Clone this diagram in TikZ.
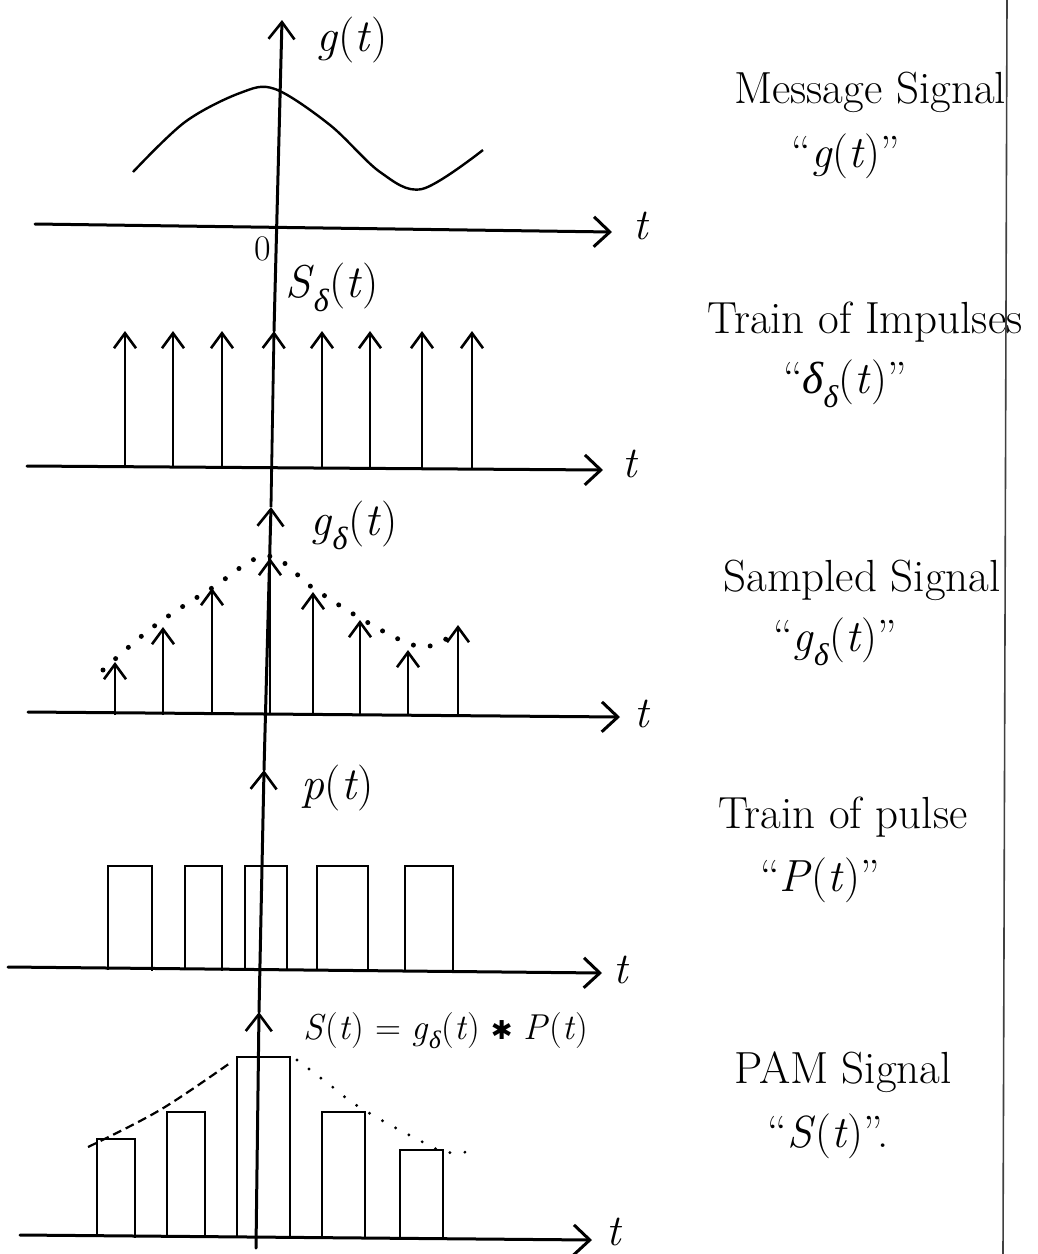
\documentclass[tikz,border=0pt]{standalone}
\usepackage{fontspec}
\setmainfont{Latin Modern Roman}
\newfontfamily\grkfont{Liberation Serif}
\newfontfamily\symfont{DejaVu Sans}
\newcommand\mydelta{{\grkfont\itshape δ}}
\newcommand\mysub[1]{\textsubscript{#1}}
\usetikzlibrary{arrows.meta}
\tikzset{
  axisline/.style={line width=3pt, line cap=round},
  haxis/.style={axisline, -{Straight Barb[length=16pt,width=30pt,line width=3pt]}},
  vaxis/.style={axisline, -{Straight Barb[length=17pt,width=26pt,line width=2.6pt]}},
  impulse/.style={line width=2.8pt, -{Straight Barb[length=15pt,width=22pt,line width=2.6pt]}},
  pulse/.style={line width=2.6pt, line join=miter},
  wave/.style={line width=2.4pt},
  envdots/.style={line width=5pt, line cap=round, dash pattern=on 0pt off 17pt},
  pamdots/.style={line width=3.2pt, line cap=round, dash pattern=on 0pt off 15pt},
  pamdash/.style={line width=2.2pt, dash pattern=on 9pt off 5pt},
  lbl/.style={font=\fontsize{46}{52}\selectfont, inner sep=0pt},
  eqlbl/.style={font=\fontsize{36}{42}\selectfont, inner sep=0pt},
  zlbl/.style={font=\fontsize{36}{42}\selectfont, inner sep=0pt},
  tlbl/.style={font=\fontsize{44}{50}\selectfont\itshape, inner sep=0pt},
  desc/.style={font=\fontsize{45}{52}\selectfont, inner sep=0pt},
  frame/.style={line width=1.6pt, black!75}
}
\begin{document}
\begin{tikzpicture}[x=1pt,y=-1pt]
\fill[white] (0,0) rectangle (1038,1254);
\useasboundingbox (0,0) rectangle (1038,1254);

% ---------- main vertical axis ----------
\coordinate (vb) at (256,1248);
\coordinate (v5) at (259,1012);
\coordinate (v4) at (264,770);
\coordinate (v3) at (271,507);
\coordinate (v2) at (274,331);
\coordinate (v1) at (282,20);
\draw[vaxis] (vb) -- (v5);
\draw[vaxis] (v5) -- (v4);
\draw[vaxis] (v4) -- (v3);
\draw[impulse] (v3) -- (v2);
\draw[vaxis] (v2) -- (v1);

% ---------- panel 1: message signal ----------
\coordinate (h1s) at (35,224);
\coordinate (h1e) at (612,232);
\draw[haxis] (h1s) -- (h1e);
\node[tlbl] (t1) at (641,226) {t};
\node[zlbl] (zero) at (263,249) {0};
\node[lbl] (glab) at (352,40) {\textit{g}(\textit{t})};
\draw[wave] plot[smooth, tension=0.55] coordinates {(133,172) (185,122) (240,93) (275,89) (330,125) (380,172) (422,189) (483,150)};

% ---------- panel 2: train of impulses ----------
\coordinate (h2s) at (27,466);
\coordinate (h2e) at (603,470);
\draw[haxis] (h2s) -- (h2e);
\node[tlbl] (t2) at (630,464) {t};
\foreach \x in {125,173,222,322,370,422,472}
  \draw[impulse] (\x,468) -- (\x,331);
\node[lbl] (dlab) at (332,287) {\textit{S}\mysub{\mydelta}(\textit{t})};

% ---------- panel 3: sampled signal ----------
\coordinate (h3s) at (28,712);
\coordinate (h3e) at (620,717);
\draw[haxis] (h3s) -- (h3e);
\node[tlbl] (t3) at (642,714) {t};
\foreach \x/\y in {115/662,163/627,212/588,313/592,360/620,408/650,458/625}
  \draw[impulse] (\x,715) -- (\x,\y);
\draw[impulse] (270,715) -- (270,558);
\draw[envdots] plot[smooth, tension=0.6] coordinates {(103,670) (153,627) (212,588) (267,556) (313,588) (360,618) (405,642) (430,646) (458,632)};
\node[lbl] (gslab) at (354,525) {\textit{g}\mysub{\mydelta}(\textit{t})};

% ---------- panel 4: pulse train ----------
\coordinate (h4s) at (8,967);
\coordinate (h4e) at (602,973);
\draw[haxis] (h4s) -- (h4e);
\node[tlbl] (t4) at (621,970) {t};
\foreach \a/\b in {108/152,185/222,245/287,317/368,405/453}
  \draw[pulse] (\a,970) -- (\a,866) -- (\b,866) -- (\b,971);
\node[lbl] (plab) at (338,788) {\textit{p}(\textit{t})};

% ---------- panel 5: PAM signal ----------
\coordinate (h5s) at (20,1235);
\coordinate (h5e) at (592,1240);
\draw[haxis] (h5s) -- (h5e);
\node[tlbl] (t5) at (614,1232) {t};
\foreach \a/\b/\h in {97/135/1139,167/205/1112,237/290/1057,322/365/1112,400/443/1150}
  \draw[pulse] (\a,1237) -- (\a,\h) -- (\b,\h) -- (\b,1238);
\draw[pamdash] plot[smooth, tension=0.6] coordinates {(88,1147) (160,1110) (230,1063)};
\draw[pamdots] plot[smooth, tension=0.6] coordinates {(297,1060) (330,1085) (353,1103) (383,1121) (415,1138) (445,1152) (475,1151)};
\node[eqlbl, anchor=west] (slab) at (303,1031) {\textit{S}(\textit{t}) = \textit{g}\mysub{\mydelta}(\textit{t}) {\symfont\fontsize{26}{30}\selectfont ✱} \textit{P}(\textit{t})};

% ---------- descriptions ----------
\node[desc] (d1a) at (870,92) {Message Signal};
\node[desc] (d1b) at (846,156) {``\textit{g}(\textit{t})''};
\node[desc] (d2a) at (865,322) {Train of Impulses};
\node[desc] (d2b) at (845,384) {``\mydelta\mysub{\mydelta}(\textit{t})''};
\node[desc] (d3a) at (862,580) {Sampled Signal};
\node[desc] (d3b) at (835,642) {``\textit{g}\mysub{\mydelta}(\textit{t})''};
\node[desc] (d4a) at (843,817) {Train of pulse};
\node[desc] (d4b) at (820,880) {``\textit{P}(\textit{t})''};
\node[desc] (d5a) at (843,1072) {PAM Signal};
\node[desc] (d5b) at (828,1136) {``\textit{S}(\textit{t})''.};

% ---------- page rule ----------
\coordinate (rt) at (1007,0);
\coordinate (rb) at (1003,1254);
\draw[frame] (rt) -- (rb);
\end{tikzpicture}
\end{document}
